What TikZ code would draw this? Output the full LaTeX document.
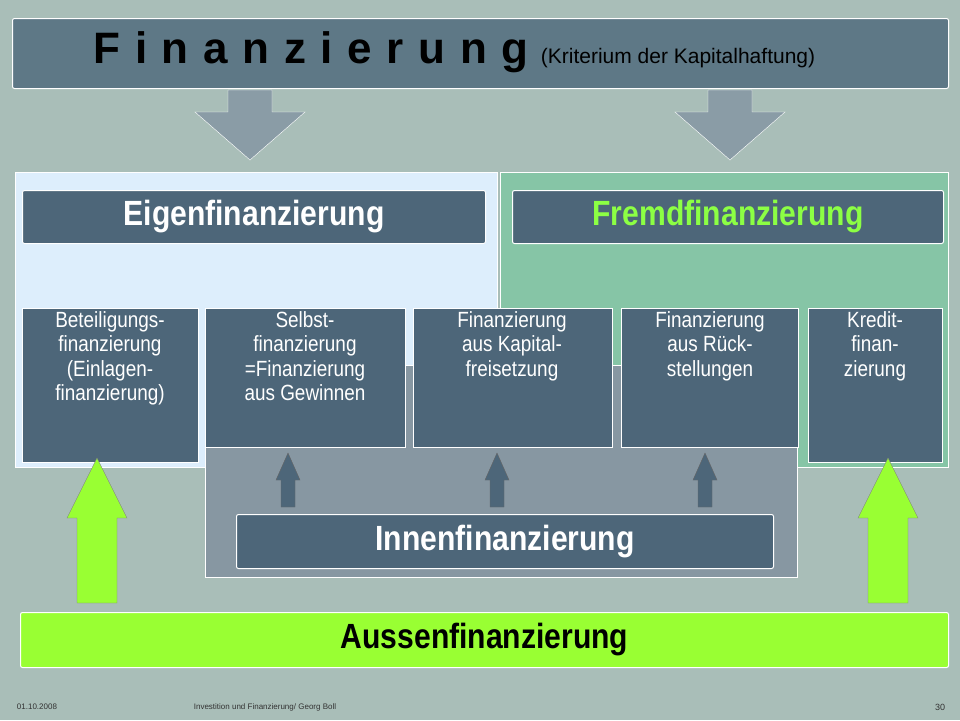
\documentclass[tikz,border=0pt]{standalone}
\usepackage{fontspec}
\setmainfont{Liberation Sans}
\newfontfamily\condfont[FakeStretch=0.86]{Liberation Sans}
\usetikzlibrary{positioning}
\definecolor{slate}{HTML}{4D6679}
\definecolor{topbar}{HTML}{5E7886}
\definecolor{bgc}{HTML}{A9BEB8}
\definecolor{lightpanel}{HTML}{DDEEFC}
\definecolor{greenpanel}{HTML}{86C5A6}
\definecolor{innenpanel}{HTML}{8797A2}
\definecolor{lime}{HTML}{99FF33}
\definecolor{fremdgreen}{HTML}{8CFF44}
\definecolor{arrowgray}{HTML}{8A9CA6}
\begin{document}
\begin{tikzpicture}[x=1pt,y=-1pt,
  boxstyle/.style={draw=white,line width=1pt,fill=slate,rounded corners=2pt},
  headtext/.style={font=\condfont\bfseries\fontsize{35}{38}\selectfont},
  itemtext/.style={text=white,font=\condfont\fontsize{22}{24.5}\selectfont,align=center,anchor=north},
  uparrow/.style={fill=slate,draw=black!60}]
\useasboundingbox (0,0) rectangle (960,720);
\fill[bgc] (0,0) rectangle (960,720);
% top bar
\node[boxstyle,fill=topbar,minimum width=936,minimum height=70,anchor=north west] (top) at (12,18) {};
\node[anchor=west] (title) at (90,52) {\bfseries\fontsize{44}{46}\selectfont F\,\,i\,\,n\,\,a\,\,n\,\,z\,\,i\,\,e\,\,r\,\,u\,\,n\,\,g \fontsize{21}{23}\mdseries\selectfont(Kriterium der Kapitalhaftung)};
% down arrows
\foreach \ax in {250,730}
  \fill[arrowgray,draw=white] (\ax-22,90) -- (\ax+22,90) -- (\ax+22,112) -- (\ax+55,112) -- (\ax,160) -- (\ax-55,112) -- (\ax-22,112) -- cycle;
% panels
\fill[lightpanel,draw=white] (15,172) rectangle (497,467);
\fill[greenpanel,draw=white] (500,172) rectangle (948,467);
\fill[innenpanel,draw=white] (205,365) rectangle (797,577);
\node[boxstyle,minimum width=463,minimum height=53,anchor=north west,headtext,text=white] (eigen) at (22,190) {Eigenfinanzierung};
\node[boxstyle,minimum width=431,minimum height=53,anchor=north west,headtext,text=fremdgreen] (fremd) at (512,190) {Fremdfinanzierung};
% item boxes
\fill[slate,draw=white] (22,308) rectangle (198,462);
\fill[slate,draw=white] (205,308) rectangle (405,447);
\fill[slate,draw=white] (413,308) rectangle (612,447);
\fill[slate,draw=white] (621,308) rectangle (798,447);
\fill[slate,draw=white] (808,308) rectangle (942,462);
\node[itemtext] (beteil) at (110,308) {Beteiligungs-\\finanzierung\\(Einlagen-\\finanzierung)};
\node[itemtext] (selbst) at (305,308) {Selbst-\\finanzierung\\=Finanzierung\\aus Gewinnen};
\node[itemtext] (kapital) at (512,308) {Finanzierung\\aus Kapital-\\freisetzung};
\node[itemtext] (rueck) at (710,308) {Finanzierung\\aus Rück-\\stellungen};
\node[itemtext] (kredit) at (875,308) {Kredit-\\finan-\\zierung};
% small up arrows
\foreach \ax in {288,497,705}
  \filldraw[uparrow] (\ax-7,507) -- (\ax+7,507) -- (\ax+7,480) -- (\ax+12,480) -- (\ax,453) -- (\ax-12,480) -- (\ax-7,480) -- cycle;
\node[boxstyle,minimum width=537,minimum height=54,anchor=north west,headtext,text=white] (innen) at (236,514) {Innenfinanzierung};
% green up arrows
\foreach \ax in {97,888}
  \filldraw[fill=lime,draw=black!50] (\ax-20,603) -- (\ax+20,603) -- (\ax+20,518) -- (\ax+30,518) -- (\ax,458) -- (\ax-30,518) -- (\ax-20,518) -- cycle;
\node[boxstyle,fill=lime,minimum width=928,minimum height=55,anchor=north west,headtext,text=black] (aussen) at (20,612) {Aussenfinanzierung};
% footer
\node[font=\fontsize{8}{9}\selectfont,text=black!80] (date) at (37,707) {01.10.2008};
\node[font=\fontsize{8}{9}\selectfont,text=black!80] (foot) at (265,707) {Investition und Finanzierung/ Georg Boll};
\node[font=\fontsize{9}{10}\selectfont,text=black!80] (page) at (940,707) {30};
\end{tikzpicture}
\end{document}
